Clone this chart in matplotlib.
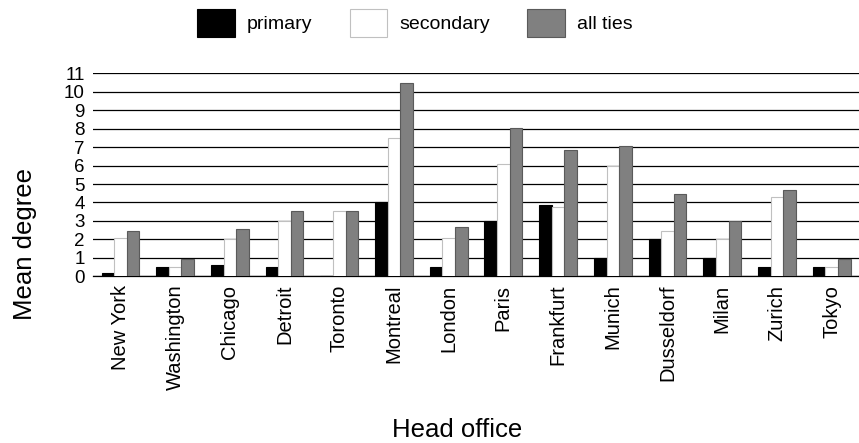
import numpy as np
import matplotlib
matplotlib.use('Agg')
import matplotlib.pyplot as plt

plt.rcParams['font.family'] = ['Liberation Sans', 'DejaVu Sans']

# 数据
cities = ['New York', 'Washington', 'Chicago', 'Detroit', 'Toronto', 'Montreal', 'London',
          'Paris', 'Frankfurt', 'Munich', 'Dusseldorf', 'Milan', 'Zurich', 'Tokyo']
primary = [0.2, 0.52, 0.63, 0.52, 0.0, 4.0, 0.52, 3.0, 3.86, 1.0, 2.04, 1.0, 0.52, 0.52]
secondary = [2.1, 0.52, 2.0, 3.0, 3.54, 7.48, 2.1, 6.07, 3.76, 5.98, 2.44, 2.0, 4.3, 0.52]
all_ties = [2.45, 0.95, 2.56, 3.54, 3.54, 10.46, 2.67, 8.02, 6.85, 7.06, 4.48, 2.98, 4.7, 0.95]
yticks = list(range(0, 12))

fig = plt.figure(figsize=(8.59, 4.43), dpi=100)
ax = fig.add_axes([0.1083, 0.3763, 0.8917, 0.4582])

x = np.arange(len(cities))
w = 0.23
ax.bar(x - w, primary, w, color='black', edgecolor='black', linewidth=0.8, label='primary', zorder=3)
ax.bar(x, secondary, w, color='white', edgecolor='#c0c0c0', linewidth=0.8, label='secondary', zorder=3)
ax.bar(x + w, all_ties, w, color='#808080', edgecolor='#5a5a5a', linewidth=0.8, label='all ties', zorder=3)

ax.set_xlim(-0.5, len(cities) - 0.5)
ax.set_ylim(0, 11)
ax.set_yticks(yticks)
ax.yaxis.grid(True, color='black', linewidth=0.9, zorder=0)
ax.set_axisbelow(True)
for s in ['top', 'right', 'left']:
    ax.spines[s].set_visible(False)
ax.spines['bottom'].set_color('black')
ax.spines['bottom'].set_linewidth(0.9)

ax.set_xticks(x)
ax.set_xticklabels(cities, rotation=90, fontsize=14.5, va='top', ha='center')
ax.tick_params(axis='x', length=0, pad=6)
ax.tick_params(axis='y', length=0, pad=6, labelsize=13.5)

fig.text(0.029, 0.45, 'Mean degree', rotation=90, fontsize=18.5, ha='center', va='center')
fig.text(0.532, 0.029, 'Head office', fontsize=18.5, ha='center', va='center')

fig.legend(loc='center', bbox_to_anchor=(0.483, 0.949), ncol=3, frameon=False,
           fontsize=14, handlelength=1.95, handleheight=1.84, handletextpad=0.62,
           columnspacing=1.9, borderaxespad=0)

plt.savefig('out.png', dpi=100)
